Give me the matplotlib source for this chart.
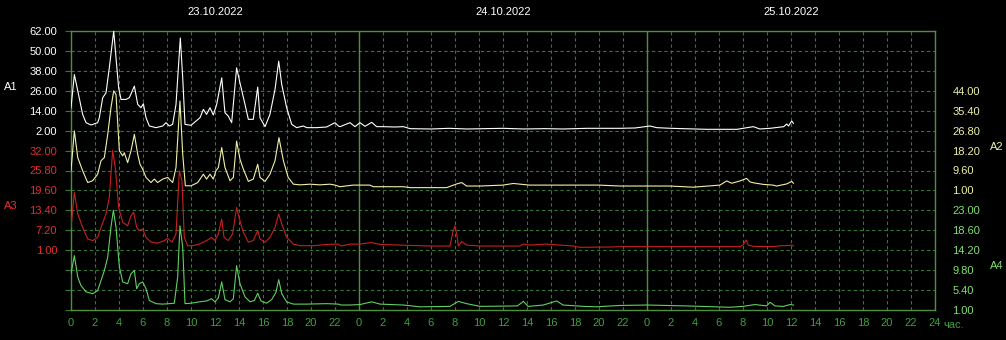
import matplotlib
matplotlib.use("Agg")
import matplotlib.pyplot as plt

plt.rcParams['font.family'] = ['Liberation Sans', 'DejaVu Sans']

# readings, hours from 23.10.2022 00:00
a1_hours = [0.0, 0.28, 0.97, 1.25, 1.67, 2.22, 2.36, 2.64, 2.92, 3.19, 3.56, 3.75, 3.97, 4.17,
            4.58, 4.86, 5.28, 5.56, 5.83, 6.03, 6.25, 6.53, 7.08, 7.64, 7.92, 8.19, 8.47, 8.75,
            9.11, 9.31, 9.5, 10.0, 10.42, 10.75, 11.03, 11.3, 11.58, 11.86, 12.14, 12.56, 12.83,
            13.1, 13.39, 13.8, 14.08, 14.5, 14.78, 15.19, 15.56, 15.75, 16.17, 16.58, 17.0, 17.31,
            17.56, 17.97, 18.39, 18.8, 19.36, 19.64, 20.47, 21.3, 22.0, 22.28, 22.42, 23.25, 23.67,
            24.08, 24.5, 25.06, 25.47, 26.0, 27.0, 27.7, 28.25, 30.0, 31.5, 33.0, 34.5, 36.0, 37.7,
            39.5, 41.0, 43.0, 45.75, 47.0, 48.25, 48.8, 50.0, 52.97, 55.5, 56.86, 57.4, 58.25,
            59.4, 59.64, 59.8, 60.06, 60.2]
a1_values = [15.8, 35.8, 11.8, 6.8, 5.4, 6.8, 9.8, 21.8, 24.8, 39.8, 62.0, 45.8, 27.8, 20.8,
             20.8, 21.8, 28.8, 17.8, 15.8, 18.2, 9.8, 4.8, 3.8, 4.8, 6.8, 4.8, 5.8, 17.8,
             57.8, 33.8, 5.8, 5.2, 7.8, 9.8, 14.8, 11.8, 15.8, 11.4, 17.8, 33.8, 12.8,
             10.8, 6.8, 39.8, 30.8, 17.8, 8.8, 8.8, 28.2, 9.8, 4.4, 11.8, 26.8, 43.8,
             29.8, 15.8, 5.8, 3.8, 4.8, 3.8, 3.8, 4.2, 6.8, 4.8, 4.4, 6.8, 4.4,
             6.8, 4.6, 7.0, 4.4, 4.4, 4.2, 4.4, 3.2, 3.0, 3.4, 3.0, 3.2, 3.4, 3.0,
             3.2, 3.0, 3.4, 3.4, 3.6, 4.8, 3.8, 3.4, 2.8, 2.8, 4.4, 3.0, 3.4,
             4.4, 6.0, 4.8, 7.8, 6.4]

a2_hours = [0.0, 0.28, 0.56, 0.97, 1.39, 1.81, 2.22, 2.5, 2.78, 3.06, 3.33, 3.56, 3.75, 4.03,
            4.31, 4.44, 4.72, 5.0, 5.28, 5.56, 5.75, 5.97, 6.25, 6.67, 6.94, 7.22, 7.64, 8.06,
            8.47, 8.75, 9.08, 9.31, 9.53, 10.0, 10.56, 11.03, 11.3, 11.58, 11.86, 12.08, 12.28,
            12.56, 12.83, 13.25, 13.53, 13.8, 14.08, 14.36, 14.78, 15.19, 15.56, 15.75, 16.17,
            16.58, 17.0, 17.33, 17.7, 18.1, 18.53, 19.08, 19.92, 20.75, 21.58, 22.0, 22.42, 23.5,
            24.9, 25.2, 27.7, 28.25, 31.3, 32.14, 32.56, 32.97, 34.1, 36.0, 36.86, 38.2, 41.0,
            44.0, 45.75, 49.9, 51.86, 54.08, 54.64, 55.06, 55.75, 56.3, 56.58, 56.86, 57.7, 58.5,
            58.8, 59.64, 60.06, 60.2]
a2_values = [9.5, 26.7, 15.2, 9.5, 4.4, 5.2, 8.0, 13.8, 15.2, 25.2, 36.7, 44.0, 42.4, 18.1,
             15.9, 17.3, 13.0, 18.1, 25.2, 16.6, 12.3, 10.2, 6.6, 4.4, 5.9, 4.4, 5.9, 6.6,
             4.4, 10.9, 39.6, 16.6, 3.0, 3.0, 4.4, 8.0, 5.9, 8.0, 5.9, 9.5, 10.9,
             19.5, 10.9, 5.2, 6.6, 22.3, 14.5, 10.2, 4.9, 5.9, 12.3, 6.6, 4.9,
             8.0, 13.8, 23.8, 13.8, 6.6, 3.7, 3.4, 3.7, 3.4, 3.7, 3.3, 2.6, 3.3,
             3.3, 2.6, 2.6, 2.2, 2.2, 3.8, 4.4, 2.9, 2.9, 3.3, 4.0, 3.3, 3.3,
             3.3, 2.9, 2.9, 2.4, 3.3, 5.1, 4.1, 5.1, 6.2, 4.7, 4.3, 3.6, 3.3,
             2.9, 3.8, 4.9, 4.1]

a3_hours = [0.0, 0.28, 0.56, 0.97, 1.39, 1.81, 2.22, 2.5, 2.92, 3.19, 3.47, 3.69, 3.97, 4.31,
            4.72, 5.0, 5.22, 5.47, 5.69, 5.97, 6.25, 6.67, 7.22, 7.78, 8.06, 8.42, 8.75, 9.03,
            9.25, 9.44, 9.72, 10.14, 10.69, 11.3, 11.72, 12.0, 12.28, 12.56, 12.75, 13.1, 13.47,
            13.8, 14.08, 14.36, 14.78, 15.19, 15.56, 15.75, 16.17, 16.58, 17.0, 17.31, 17.56,
            17.97, 18.53, 19.08, 20.2, 21.3, 22.28, 22.5, 23.25, 24.1, 25.06, 25.75, 29.9, 31.58,
            31.8, 32.0, 32.19, 32.28, 32.56, 32.97, 34.1, 37.4, 37.7, 38.25, 39.6, 41.86, 42.4,
            45.0, 45.75, 55.75, 56.0, 56.25, 56.44, 56.86, 58.5, 59.1, 59.64, 60.06, 60.2]
a3_values = [8.1, 19.0, 12.3, 8.1, 4.5, 4.0, 5.0, 8.1, 12.3, 17.4, 32.0, 26.7, 14.3, 9.7,
             8.6, 11.7, 12.8, 8.1, 7.1, 7.6, 5.0, 3.5, 3.2, 4.0, 4.7, 3.5, 6.1, 25.7,
             22.6, 5.0, 2.4, 2.4, 2.9, 4.0, 5.0, 4.0, 6.1, 10.7, 5.0, 4.0, 6.1,
             14.3, 10.2, 6.6, 3.5, 4.0, 7.1, 4.5, 3.5, 5.0, 8.1, 12.3, 9.2,
             5.0, 2.9, 2.4, 2.4, 2.8, 2.9, 2.3, 2.9, 2.9, 3.4, 2.8, 2.3, 2.3,
             6.3, 8.6, 5.0, 2.3, 3.7, 2.6, 2.3, 2.3, 2.9, 2.6, 2.9, 2.3, 1.9,
             2.0, 2.1, 2.1, 2.6, 4.2, 2.6, 2.2, 2.1, 2.4, 2.4, 2.6, 2.3]

a4_hours = [0.0, 0.28, 0.56, 0.83, 1.25, 1.81, 2.22, 2.5, 2.78, 3.06, 3.33, 3.53, 3.75, 4.03,
            4.31, 4.72, 5.0, 5.28, 5.47, 5.69, 5.97, 6.25, 6.53, 7.08, 7.64, 8.19, 8.61, 8.89,
            9.08, 9.31, 9.5, 10.0, 10.69, 11.3, 11.72, 12.0, 12.28, 12.56, 12.83, 13.25, 13.53,
            13.8, 14.08, 14.5, 14.92, 15.28, 15.56, 15.83, 16.3, 16.72, 17.08, 17.31, 17.56,
            17.97, 18.53, 19.64, 21.3, 22.28, 22.5, 23.25, 24.08, 25.06, 25.75, 27.7, 29.08,
            31.58, 32.28, 32.97, 34.1, 37.2, 37.7, 38.1, 39.36, 40.47, 41.0, 42.7, 43.8, 45.0,
            45.75, 48.0, 51.3, 54.9, 56.0, 57.0, 57.97, 58.25, 58.67, 59.36, 59.92, 60.2]
a4_values = [9.0, 13.0, 8.3, 6.4, 5.0, 4.6, 5.3, 7.5, 9.7, 12.7, 19.3, 23.0, 19.3, 10.5,
             7.2, 6.8, 9.0, 9.7, 5.7, 6.8, 7.2, 5.7, 3.1, 2.4, 2.3, 2.4, 2.5, 8.3,
             19.6, 14.9, 2.4, 2.5, 2.8, 3.0, 3.5, 2.8, 3.7, 7.2, 3.3, 2.8, 3.5,
             10.8, 6.8, 3.9, 2.8, 3.1, 4.7, 3.0, 2.5, 3.3, 4.9, 7.7, 4.6,
             2.8, 2.3, 2.3, 2.4, 2.3, 2.1, 2.1, 2.2, 2.8, 2.3, 2.1, 1.7,
             1.8, 2.9, 2.4, 1.8, 1.9, 2.9, 1.8, 2.1, 3.0, 2.1, 1.8, 1.7, 1.9,
             2.0, 2.1, 1.9, 1.6, 1.8, 2.2, 1.9, 2.7, 1.9, 1.8, 2.2, 2.1]

# axis scales: ticks shown on each scale
a1_ticks = [62.0, 50.0, 38.0, 26.0, 14.0, 2.0]
a2_ticks = [44.0, 35.4, 26.8, 18.2, 9.6, 1.0]
a3_ticks = [32.0, 25.8, 19.6, 13.4, 7.2, 1.0]
a4_ticks = [23.0, 18.6, 14.2, 9.8, 5.4, 1.0]
dates = ["23.10.2022", "24.10.2022", "25.10.2022"]

grid_col = "#347834"
frame_col = "#4f8f3f"
tick_col = "#3f9f3f"

W, H = 1006, 340
fig = plt.figure(figsize=(W / 100, H / 100), dpi=100, facecolor="black")
L, R, T, B = 71, 935, 31, 310
ax = fig.add_axes([L / W, 1 - B / H, (R - L) / W, (B - T) / H])
ax.set_facecolor("black")
ax.set_xlim(0, 72)
ax.set_ylim(0, 14)

ax.set_xticks(range(0, 73, 2))
ax.set_xticklabels([str(h % 24) if h < 72 else "24" for h in range(0, 73, 2)])
ax.set_yticks(range(15))
ax.tick_params(axis="x", length=0, pad=6, labelsize=8, labelcolor=tick_col)
ax.tick_params(axis="y", left=False, right=True, labelleft=False, length=4, color=grid_col)
ax.grid(True, color=grid_col, linestyle=(0, (3, 2.5)), linewidth=0.8)
for s in ax.spines.values():
    s.set_color(frame_col)
    s.set_linewidth(1.0)
for d in (24, 48):
    ax.axvline(d, color=frame_col, linewidth=1.0)

for i, d in enumerate(dates):
    ax.text(12 + 24 * i, 1 + (T - 12) / (B - T), d, transform=ax.get_xaxis_transform(),
            ha="center", va="center", color="white", fontsize=8)
ax.text(72.7, -(325 - B) / (B - T), "час.", transform=ax.get_xaxis_transform(),
        ha="left", va="center", color=tick_col, fontsize=8)

series = [
    ("A1", a1_hours, a1_values, a1_ticks, 0, "left", "white", "white"),
    ("A2", a2_hours, a2_values, a2_ticks, 3, "right", "#f0f0a8", "#f0f0a8"),
    ("A3", a3_hours, a3_values, a3_ticks, 6, "left", "#c82020", "#e03030"),
    ("A4", a4_hours, a4_values, a4_ticks, 9, "right", "#60d060", "#80e070"),
]
for name, hrs, vals, ticks, top_row, side, line_col, lab_col in series:
    axt = ax.twinx()
    step = ticks[0] - ticks[1]
    axt.set_ylim(ticks[-1] - (14 - top_row - 5) * step, ticks[0] + top_row * step)
    axt.set_yticks(ticks)
    axt.set_yticklabels(["%.2f" % t for t in ticks])
    if side == "left":
        axt.yaxis.tick_left()
        axt.tick_params(axis="y", length=0, pad=10, labelsize=8, labelcolor=lab_col)
    else:
        axt.yaxis.tick_right()
        axt.tick_params(axis="y", length=0, pad=12.5, labelsize=8, labelcolor=lab_col)
    for s in axt.spines.values():
        s.set_visible(False)
    axt.plot(hrs, vals, color=line_col, linewidth=0.8)
    row_mid = top_row + 2.8
    ypix = T + row_mid * (B - T) / 14
    xpix = 11 if side == "left" else 997
    fig.text(xpix / W, 1 - ypix / H, name, color=lab_col, fontsize=8, ha="center", va="center")

fig.savefig("out.png", dpi=100, facecolor="black")
